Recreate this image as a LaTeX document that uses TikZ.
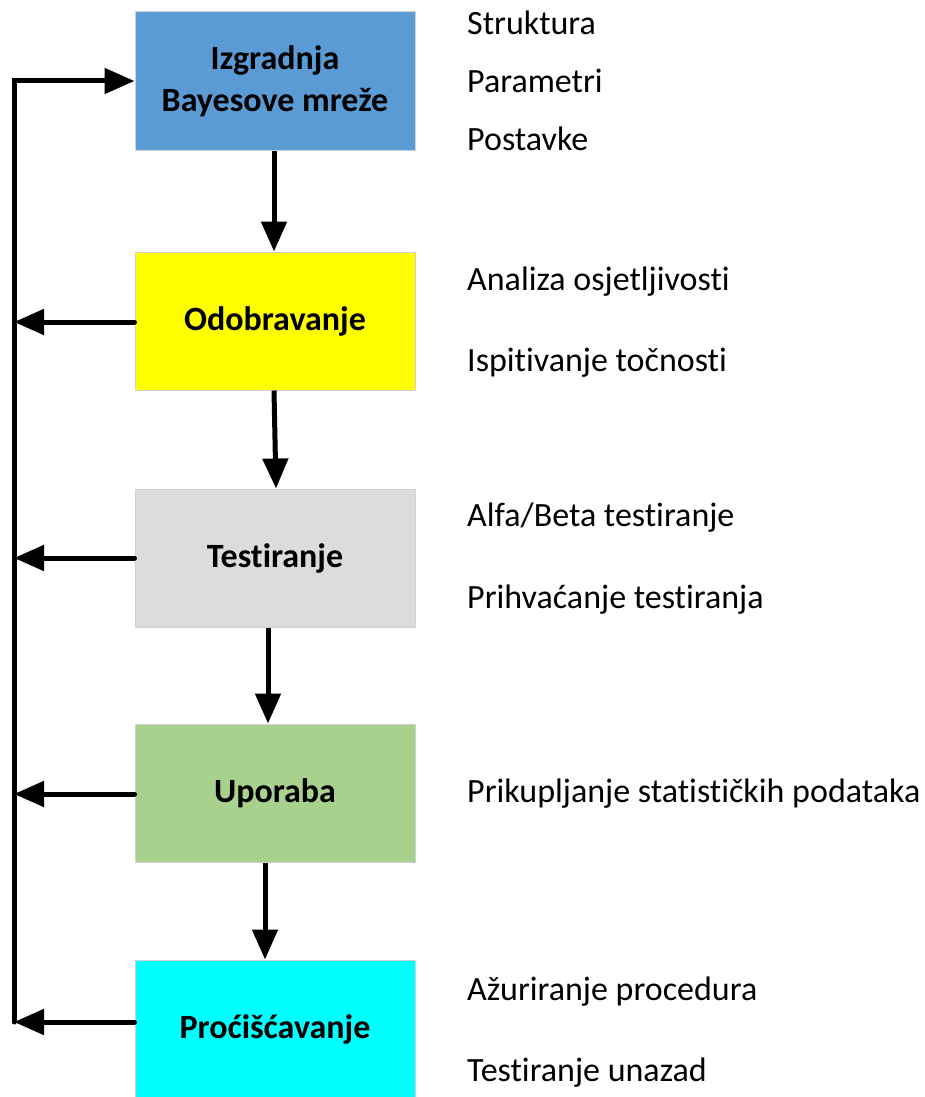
\documentclass[tikz,border=0pt]{standalone}
\usepackage{fontspec}
\setmainfont{Carlito}[Ligatures=NoCommon]
\usetikzlibrary{arrows.meta,calc}
\begin{document}
\begin{tikzpicture}[x=1pt,y=-1pt,
  stage/.style={draw=black!18, line width=1pt, minimum width=280pt, minimum height=138pt, inner sep=0pt, align=center, font=\fontsize{34}{42}\selectfont\bfseries},
  note/.style={anchor=west, inner sep=0pt, font=\fontsize{34}{40}\selectfont},
  flow/.style={line width=5pt, -{Triangle[length=30pt,width=25pt]}},
  rail/.style={line width=5pt}
]
\useasboundingbox (0,0) rectangle (924,1097);
\node[stage, fill={rgb,255:red,91;green,155;blue,213}] (b1) at (275,81) {Izgradnja\\Bayesove mreže};
\node[stage, fill={rgb,255:red,255;green,255;blue,0}] (b2) at (275,321) {Odobravanje};
\node[stage, fill={rgb,255:red,220;green,220;blue,220}] (b3) at (275,558) {Testiranje};
\node[stage, fill={rgb,255:red,169;green,209;blue,142}] (b4) at (275,793) {Uporaba};
\node[stage, fill={rgb,255:red,0;green,255;blue,255}] (b5) at (275,1029) {Proćišćavanje};

\coordinate (t0) at (14,81);
\coordinate (t2) at (14,322);
\coordinate (t3) at (14,558);
\coordinate (t4) at (14,794);
\coordinate (t5) at (14,1022);

\draw[rail, line cap=round, line join=miter] (t5) -- (t0);
\draw[flow] ([xshift=-2.5pt]t0) -- (b1.west);
\draw[flow, line cap=round] (b2.west |- t2) -- (t2);
\draw[flow, line cap=round] (b3.west |- t3) -- (t3);
\draw[flow, line cap=round] (b4.west |- t4) -- (t4);
\draw[flow, line cap=round] (b5.west |- t5) -- (t5);

\draw[flow] ([xshift=-1pt]b1.south) -- ([xshift=-1pt]b2.north);
\draw[flow] ([xshift=-1pt]b2.south) -- ([xshift=1pt]b3.north);
\draw[flow] ([xshift=-7pt]b3.south) -- ([xshift=-7pt]b4.north);
\draw[flow] ([xshift=-10pt]b4.south) -- ([xshift=-10pt]b5.north);

\node[note] (n1) at (467,23) {Struktura};
\node[note] (n2) at (467,81) {Parametri};
\node[note] (n3) at (467,139) {Postavke};
\node[note] (n4) at (467,282) {Analiza osjetljivosti};
\node[note] (n5) at (467,363) {Ispitivanje točnosti};
\node[note] (n6) at (467,518) {Alfa/Beta testiranje};
\node[note] (n7) at (467,600) {Prihvaćanje testiranja};
\node[note] (n8) at (467,794) {Prikupljanje statističkih podataka};
\node[note] (n9) at (467,992) {Ažuriranje procedura};
\node[note] (n10) at (467,1073) {Testiranje unazad};
\end{tikzpicture}
\end{document}
